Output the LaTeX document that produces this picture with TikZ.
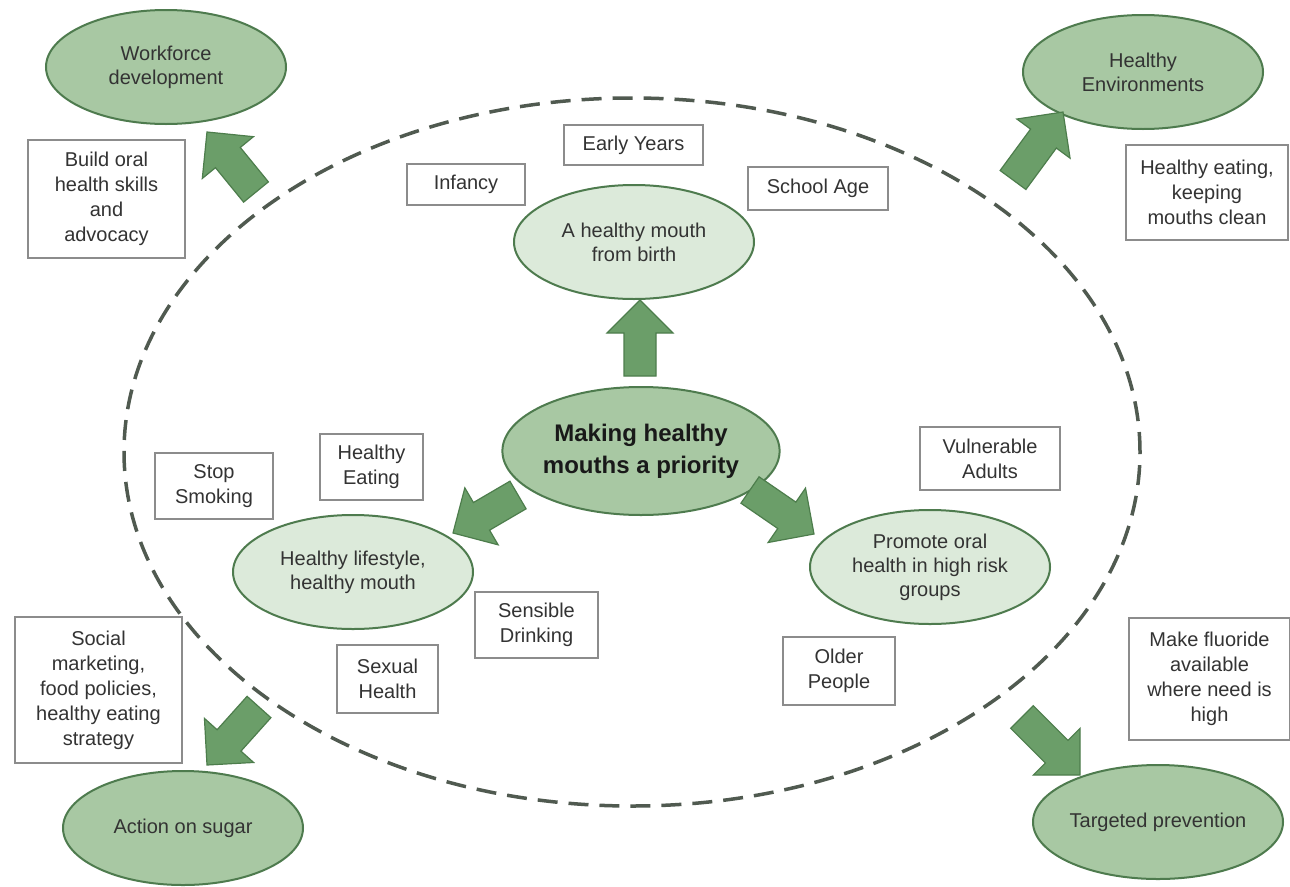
\documentclass[tikz,border=0pt]{standalone}
\usepackage{fontspec}
\setmainfont{Liberation Sans}
\usetikzlibrary{shapes.geometric,calc}
\definecolor{outerfill}{HTML}{A8C8A3}
\definecolor{innerfill}{HTML}{DCEADA}
\definecolor{edgegreen}{HTML}{4E7B4E}
\definecolor{arrowfill}{HTML}{6B9E69}
\definecolor{arrowedge}{HTML}{4D7D4C}
\definecolor{boxedge}{HTML}{8C8C8C}
\definecolor{txt}{HTML}{333333}
\definecolor{dashcol}{HTML}{505A50}
\tikzset{
  ell/.style={ellipse, draw=edgegreen, line width=2pt, inner sep=0pt,
    minimum width=240pt, minimum height=114pt, align=center, text=txt,
    font=\fontsize{20}{24}\selectfont},
  outerell/.style={ell, fill=outerfill},
  innerell/.style={ell, fill=innerfill},
  txtbox/.style={draw=boxedge, line width=1.3pt, fill=white, inner sep=0pt,
    align=center, text=txt, font=\fontsize{20}{25}\selectfont},
  bigarrow/.style={fill=arrowfill, draw=arrowedge, line width=1.2pt, line join=miter},
}
\newcommand\blockarrow[2]{%
  \coordinate (#1-hb) at ($(#2)!33pt!(#1)$);
  \draw[bigarrow] ($(#1)!16pt!90:(#2)$) -- ($(#1-hb)!16pt!90:(#2)$)
    -- ($(#1-hb)!33pt!90:(#2)$) -- (#2) -- ($(#1-hb)!33pt!-90:(#2)$)
    -- ($(#1-hb)!16pt!-90:(#2)$) -- ($(#1)!16pt!-90:(#2)$) -- cycle;
}
\begin{document}
\begin{tikzpicture}[x=1pt,y=-1pt]
\useasboundingbox (0,0) rectangle (1290,886);
\fill[white] (0,0) rectangle (1290,886);
% dashed boundary
\draw[dashcol, line width=3.5pt, dash pattern=on 20pt off 11pt] (632,452) ellipse [x radius=508pt, y radius=354pt];

% outer ellipses
\node[outerell] (wf) at (166,67) {Workforce\\development};
\node[outerell] (he) at (1143,72) {Healthy\\Environments};
\node[outerell] (as) at (183,828) {Action on sugar};
\node[outerell] (tp) at (1158,822) {Targeted prevention};

% outer boxes
\node[txtbox, minimum width=157pt, minimum height=118pt] (bo) at (106.5,199) {Build oral\\health skills\\and\\advocacy};
\node[txtbox, minimum width=162pt, minimum height=95pt] (hk) at (1207,192.5) {Healthy eating,\\keeping\\mouths clean};
\node[txtbox, minimum width=167pt, minimum height=146pt] (sm) at (98.5,690) {Social\\marketing,\\food policies,\\healthy eating\\strategy};
\node[txtbox, minimum width=161pt, minimum height=122pt] (mf) at (1209.5,679) {Make fluoride\\available\\where need is\\high};

% inner ellipses
\node[innerell] (hb) at (634,242) {A healthy mouth\\from birth};
\node[outerell, minimum width=242pt, minimum height=128pt, text=black!90,
  font=\fontsize{24}{32}\selectfont\bfseries] (mk) at (641,451) {Making healthy\\mouths a priority};
\node[innerell] (hl) at (353,572) {Healthy lifestyle,\\healthy mouth};
\node[innerell] (po) at (930,567) {Promote oral\\health in high risk\\groups};

% inner boxes
\node[txtbox, minimum width=118pt, minimum height=41pt] (inf) at (466,184.5) {Infancy};
\node[txtbox, minimum width=139pt, minimum height=40pt] (ey) at (633.5,145) {Early Years};
\node[txtbox, minimum width=140pt, minimum height=43pt] (sa) at (818,188.5) {School Age};
\node[txtbox, minimum width=118pt, minimum height=66pt] (ss) at (214,486) {Stop\\Smoking};
\node[txtbox, minimum width=103pt, minimum height=66pt] (he2) at (371.5,467) {Healthy\\Eating};
\node[txtbox, minimum width=123pt, minimum height=66pt] (sd) at (536.5,625) {Sensible\\Drinking};
\node[txtbox, minimum width=101pt, minimum height=68pt] (sh) at (387.5,679) {Sexual\\Health};
\node[txtbox, minimum width=140pt, minimum height=63pt] (va) at (990,458.5) {Vulnerable\\Adults};
\node[txtbox, minimum width=112pt, minimum height=68pt] (op) at (839,671) {Older\\People};

% arrows
\coordinate (upT) at (640,376);   \coordinate (upH) at (640,300);
\coordinate (clT) at (518,495);   \coordinate (clH) at (453,533);
\coordinate (crT) at (750,490);   \coordinate (crH) at (814,534);
\coordinate (tlT) at (256,192);   \coordinate (tlH) at (207,132);
\coordinate (trT) at (1013,180);  \coordinate (trH) at (1063,112);
\coordinate (blT) at (259,707);   \coordinate (blH) at (207,765);
\coordinate (brT) at (1022,717);  \coordinate (brH) at (1080,775);
\blockarrow{upT}{upH}
\blockarrow{clT}{clH}
\blockarrow{crT}{crH}
\blockarrow{tlT}{tlH}
\blockarrow{trT}{trH}
\blockarrow{blT}{blH}
\blockarrow{brT}{brH}
\end{tikzpicture}
\end{document}
